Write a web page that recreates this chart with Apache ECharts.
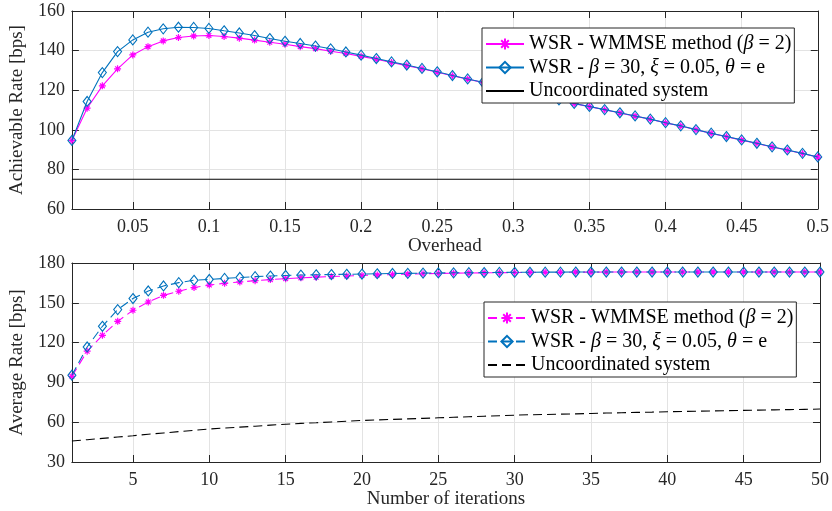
<!DOCTYPE html>
<html>
<head>
<meta charset="utf-8">
<script src="https://cdn.jsdelivr.net/npm/echarts@6/dist/echarts.min.js"></script>
<style>
html, body { margin: 0; padding: 0; background: #ffffff; }
#chart { width: 832px; height: 511px; }
</style>
</head>
<body>
<div id="chart"></div>
<script>
// Top panel: achievable rate versus overhead
const overhead = [0.01, 0.02, 0.03, 0.04, 0.05, 0.06, 0.07, 0.08, 0.09, 0.10,
  0.11, 0.12, 0.13, 0.14, 0.15, 0.16, 0.17, 0.18, 0.19, 0.20,
  0.21, 0.22, 0.23, 0.24, 0.25, 0.26, 0.27, 0.28, 0.29, 0.30,
  0.31, 0.32, 0.33, 0.34, 0.35, 0.36, 0.37, 0.38, 0.39, 0.40,
  0.41, 0.42, 0.43, 0.44, 0.45, 0.46, 0.47, 0.48, 0.49, 0.50];
const rateWmmse = [94.6, 110.9, 122.2, 130.8, 137.8, 142.0, 144.9, 146.6, 147.4, 147.6,
  147.1, 146.3, 145.3, 144.2, 143.2, 142.0, 141.0, 139.7, 138.5, 137.1,
  135.6, 134.0, 132.4, 130.8, 129.1, 127.3, 125.6, 123.9, 122.1, 120.4,
  118.6, 116.8, 115.0, 113.2, 111.7, 110.1, 108.5, 106.9, 105.3, 103.5,
  101.9, 100.0, 98.2, 96.5, 94.8, 93.1, 91.3, 89.7, 88.0, 86.2];
const rateProposed = [94.6, 114.3, 128.9, 139.5, 145.4, 149.3, 151.0, 151.8, 151.7, 151.2,
  150.0, 148.9, 147.6, 146.1, 144.7, 143.6, 142.3, 140.9, 139.3, 137.7,
  136.0, 134.3, 132.7, 131.0, 129.3, 127.4, 125.7, 124.0, 122.2, 120.5,
  118.7, 116.9, 115.1, 113.3, 111.8, 110.2, 108.6, 107.0, 105.4, 103.6,
  102.0, 100.1, 98.3, 96.6, 94.9, 93.2, 91.4, 89.8, 88.1, 86.3];
const uncoordOverhead = [0.01, 0.5];
const uncoordRate = [75, 75];
const overheadTicks = [0.05, 0.1, 0.15, 0.2, 0.25, 0.3, 0.35, 0.4, 0.45, 0.5];

// Bottom panel: average rate versus number of iterations
const iterations = [1, 2, 3, 4, 5, 6, 7, 8, 9, 10,
  11, 12, 13, 14, 15, 16, 17, 18, 19, 20,
  21, 22, 23, 24, 25, 26, 27, 28, 29, 30,
  31, 32, 33, 34, 35, 36, 37, 38, 39, 40,
  41, 42, 43, 44, 45, 46, 47, 48, 49, 50];
const avgWmmse = [94.6, 113.5, 125.5, 136.0, 144.4, 150.6, 155.6, 158.7, 161.5, 163.4,
  164.7, 165.7, 166.7, 167.5, 168.2, 168.8, 169.3, 169.8, 170.2, 170.6,
  171.0, 171.3, 171.6, 171.9, 172.1, 172.3, 172.5, 172.6, 172.7, 172.8,
  172.9, 173.0, 173.0, 173.1, 173.1, 173.2, 173.2, 173.2, 173.2, 173.2,
  173.2, 173.2, 173.2, 173.2, 173.2, 173.2, 173.2, 173.2, 173.2, 173.2];
const avgProposed = [95.4, 116.7, 132.3, 144.9, 153.2, 158.9, 162.7, 165.2, 167.0, 167.6,
  168.4, 169.1, 169.7, 170.2, 170.6, 170.9, 171.1, 171.3, 171.5, 171.7,
  171.9, 172.1, 172.2, 172.4, 172.5, 172.6, 172.7, 172.8, 172.9, 173.0,
  173.0, 173.1, 173.1, 173.2, 173.2, 173.2, 173.2, 173.2, 173.2, 173.2,
  173.2, 173.2, 173.2, 173.2, 173.2, 173.2, 173.2, 173.2, 173.2, 173.2];
const avgUncoord = [45.8, 46.8, 47.8, 48.8, 49.8, 50.9, 51.9, 52.9, 53.9, 54.9,
  55.6, 56.3, 57.0, 57.8, 58.5, 59.1, 59.6, 60.2, 60.7, 61.3,
  61.7, 62.1, 62.5, 62.9, 63.3, 63.7, 64.1, 64.5, 64.9, 65.3,
  65.6, 65.8, 66.1, 66.3, 66.6, 66.9, 67.1, 67.4, 67.6, 67.9,
  68.1, 68.3, 68.5, 68.7, 68.9, 69.1, 69.3, 69.5, 69.7, 69.9];
const iterationTicks = [5, 10, 15, 20, 25, 30, 35, 40, 45, 50];

const legendText = {
  wmmse: 'WSR - WMMSE method ({i|β} = 2)',
  proposed: 'WSR - {i|β} = 30, {i|ξ} = 0.05, {i|θ} = e',
  uncoord: 'Uncoordinated system'
};

const FONT = "'Liberation Serif', 'DejaVu Serif', 'Times New Roman', serif";
const INK = '#262626';
const GRID = '#e3e3e3';
const MAGENTA = '#ff00ff';
const BLUE = '#0072bd';
const ASTERISK = 'path://M5,0L5,10M0,5L10,5M1.6,1.6L8.4,8.4M1.6,8.4L8.4,1.6';
const CLEAR = 'rgba(0,0,0,0)';

const zip = (xs, ys) => xs.map((x, i) => [x, ys[i]]);

function mainX(grid, min, max, ticks, name, gap) {
  return {
    gridIndex: grid, type: 'value', min: min, max: max, position: 'bottom',
    name: name, nameLocation: 'middle', nameGap: gap,
    nameTextStyle: { fontFamily: FONT, fontSize: 19, color: INK },
    axisLine: { show: true, onZero: false, lineStyle: { color: INK, width: 1 } },
    axisTick: { show: true, inside: true, length: 7, customValues: ticks, lineStyle: { color: INK } },
    axisLabel: { show: true, customValues: ticks, margin: 9, fontFamily: FONT, fontSize: 18, color: INK },
    splitLine: { show: true, lineStyle: { color: GRID, width: 1 } }
  };
}
function mirrorX(grid, min, max, ticks) {
  return {
    gridIndex: grid, type: 'value', min: min, max: max, position: 'top',
    axisLine: { show: true, onZero: false, lineStyle: { color: INK, width: 1 } },
    axisTick: { show: true, inside: true, length: 7, customValues: ticks, lineStyle: { color: INK } },
    axisLabel: { show: false }, splitLine: { show: false }
  };
}
function mainY(grid, min, max, step, name) {
  return {
    gridIndex: grid, type: 'value', min: min, max: max, interval: step, position: 'left',
    name: name, nameLocation: 'middle', nameGap: 36,
    nameTextStyle: { fontFamily: FONT, fontSize: 19, color: INK },
    axisLine: { show: true, onZero: false, lineStyle: { color: INK, width: 1 } },
    axisTick: { show: true, inside: true, length: 7, lineStyle: { color: INK } },
    axisLabel: { show: true, margin: 7, fontFamily: FONT, fontSize: 18, color: INK },
    splitLine: { show: true, lineStyle: { color: GRID, width: 1 } }
  };
}
function mirrorY(grid, min, max, step) {
  return {
    gridIndex: grid, type: 'value', min: min, max: max, interval: step, position: 'right',
    axisLine: { show: true, onZero: false, lineStyle: { color: INK, width: 1 } },
    axisTick: { show: true, inside: true, length: 7, lineStyle: { color: INK } },
    axisLabel: { show: false }, splitLine: { show: false }
  };
}
function legendBox(left, top, names) {
  return {
    data: [
      names[0],
      names[1],
      // plain line entry: no marker in its key
      { name: names[2], itemStyle: { color: CLEAR, borderColor: CLEAR, borderWidth: 0 } }
    ],
    left: left, top: top, orient: 'vertical',
    itemWidth: 38, itemHeight: 14, itemGap: 1.5,
    padding: [5, 3, 1, 3],
    backgroundColor: '#ffffff', borderColor: INK, borderWidth: 1, borderRadius: 0,
    selectedMode: false,
    formatter: n => legendText[n.split('-')[0]],
    textStyle: {
      fontFamily: FONT, fontSize: 20, color: '#000000', lineHeight: 22,
      rich: { i: { fontFamily: FONT, fontSize: 20, fontStyle: 'italic', color: '#000000', lineHeight: 22 } }
    }
  };
}
function wmmseSeries(name, xi, yi, data, dashed) {
  return {
    name: name, type: 'line', xAxisIndex: xi, yAxisIndex: yi, data: data,
    symbol: ASTERISK, symbolSize: 7, showAllSymbol: true,
    lineStyle: { color: MAGENTA, width: 1.1, type: dashed ? [9, 5] : 'solid' },
    itemStyle: { color: CLEAR, borderColor: MAGENTA, borderWidth: 1.2 },
    emphasis: { disabled: true }, animation: false, z: 2
  };
}
function proposedSeries(name, xi, yi, data, dashed) {
  return {
    name: name, type: 'line', xAxisIndex: xi, yAxisIndex: yi, data: data,
    symbol: 'diamond', symbolSize: [8, 10], showAllSymbol: true,
    lineStyle: { color: BLUE, width: 1.1, type: dashed ? [9, 5] : 'solid' },
    itemStyle: { color: CLEAR, borderColor: BLUE, borderWidth: 1.1 },
    emphasis: { disabled: true }, animation: false, z: 3
  };
}
function uncoordSeries(name, xi, yi, data, dashed) {
  return {
    name: name, type: 'line', xAxisIndex: xi, yAxisIndex: yi, data: data,
    symbol: 'none',
    lineStyle: { color: '#000000', width: 1.1, type: dashed ? [9, 5] : 'solid' },
    itemStyle: { color: '#000000' },
    emphasis: { disabled: true }, animation: false, z: 2
  };
}

const chart = echarts.init(document.getElementById('chart'), null, { renderer: 'canvas' });
chart.setOption({
  backgroundColor: '#ffffff',
  animation: false,
  textStyle: { fontFamily: FONT },
  grid: [
    { left: 62, right: 12, top: 11, height: 198 },
    { left: 64, right: 12, top: 263, height: 199 }
  ],
  xAxis: [
    mainX(0, 0.01, 0.5, overheadTicks, 'Overhead', 20),
    mirrorX(0, 0.01, 0.5, overheadTicks),
    mainX(1, 1, 50, iterationTicks, 'Number of iterations', 22),
    mirrorX(1, 1, 50, iterationTicks)
  ],
  yAxis: [
    mainY(0, 60, 160, 20, 'Achievable Rate [bps]'),
    mirrorY(0, 60, 160, 20),
    mainY(1, 30, 180, 30, 'Average Rate [bps]'),
    mirrorY(1, 30, 180, 30)
  ],
  legend: [
    legendBox(482, 28, ['wmmse-overhead', 'proposed-overhead', 'uncoord-overhead']),
    legendBox(484, 302, ['wmmse-iter', 'proposed-iter', 'uncoord-iter'])
  ],
  series: [
    wmmseSeries('wmmse-overhead', 0, 0, zip(overhead, rateWmmse), false),
    proposedSeries('proposed-overhead', 0, 0, zip(overhead, rateProposed), false),
    uncoordSeries('uncoord-overhead', 0, 0, zip(uncoordOverhead, uncoordRate), false),
    wmmseSeries('wmmse-iter', 2, 2, zip(iterations, avgWmmse), true),
    proposedSeries('proposed-iter', 2, 2, zip(iterations, avgProposed), true),
    uncoordSeries('uncoord-iter', 2, 2, zip(iterations, avgUncoord), true)
  ]
});
</script>
</body>
</html>
